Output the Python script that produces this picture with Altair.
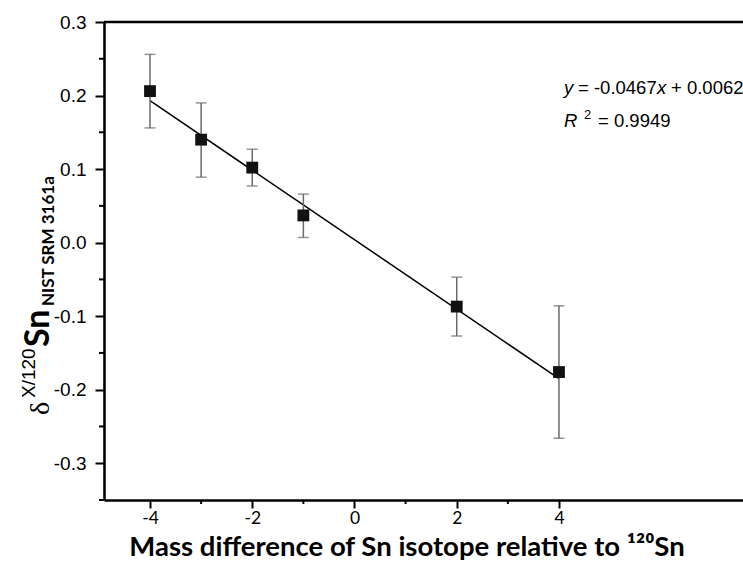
import altair as alt
import pandas as pd

# ---- data ----
mass_diff = [-4, -3, -2, -1, 2, 4]
delta = [0.206, 0.140, 0.102, 0.037, -0.087, -0.176]
err_high = [0.256, 0.190, 0.127, 0.066, -0.047, -0.086]
err_low = [0.156, 0.089, 0.077, 0.007, -0.127, -0.266]
fit_x = [-4, 4]
fit_y = [0.193, -0.185]
x_major = [-4, -2, 0, 2, 4]
x_minor = [-3, -1, 1, 3]
y_major = [-0.3, -0.2, -0.1, 0.0, 0.1, 0.2, 0.3]
y_minor = [-0.35, -0.25, -0.15, -0.05, 0.05, 0.15, 0.25]
x_domain = [-4.9, 7.6]
y_domain = [-0.35, 0.3]

pts = pd.DataFrame({"x": mass_diff, "y": delta, "hi": err_high, "lo": err_low})
fit = pd.DataFrame({"x": fit_x, "y": fit_y})
xmin_df = pd.DataFrame({"x": x_minor})
ymin_df = pd.DataFrame({"y": y_minor})

W, H = 639, 478

xscale = alt.Scale(domain=x_domain, nice=False, zero=False)
yscale = alt.Scale(domain=y_domain, nice=False, zero=False)

xaxis = alt.Axis(
    values=x_major, title=None, format="d",
    labelExpr="toString(datum.value)",
    labelFont="Lato", labelFontSize=17.5, labelColor="black", labelPadding=1,
    domainColor="black", domainWidth=2.6, tickColor="black", tickWidth=2,
    tickSize=8, grid=False, labelFlush=False, labelOverlap=False,
)
yaxis = alt.Axis(
    values=y_major, title=None,
    labelExpr="datum.value < -0.001 ? '-' + format(-datum.value, '.1f') : format(abs(datum.value), '.1f')",
    labelFont="Liberation Sans", labelFontSize=19, labelColor="black", labelPadding=9,
    domainColor="black", domainWidth=2.6, tickColor="black", tickWidth=2,
    tickSize=9, grid=False, labelFlush=False, labelOverlap=False,
)

X = alt.X("x:Q", scale=xscale, axis=xaxis)
Y = alt.Y("y:Q", scale=yscale, axis=yaxis)

top_border = alt.Chart(alt.Data(values=[{}])).mark_rule(
    color="black", strokeWidth=2.6
).encode(
    x=alt.datum(x_domain[0], scale=xscale),
    x2=alt.datum(x_domain[1]),
    y=alt.datum(y_domain[1], scale=yscale),
)

x_minor_ticks = alt.Chart(xmin_df).mark_rule(color="black", strokeWidth=2).encode(
    x=alt.X("x:Q", scale=xscale), y=alt.value(H), y2=alt.value(H + 4))
y_minor_ticks = alt.Chart(ymin_df).mark_rule(color="black", strokeWidth=2).encode(
    y=alt.Y("y:Q", scale=yscale), x=alt.value(-5), x2=alt.value(0))

fit_line = alt.Chart(fit).mark_line(color="black", strokeWidth=1.5).encode(x=X, y=Y)

err_rule = alt.Chart(pts).mark_rule(color="#6a6a6a", strokeWidth=1.5).encode(
    x="x:Q", y="lo:Q", y2="hi:Q")
cap_hi = alt.Chart(pts).mark_tick(color="#6a6a6a", thickness=1.5, size=11,
                                 orient="horizontal").encode(x="x:Q", y="hi:Q")
cap_lo = alt.Chart(pts).mark_tick(color="#6a6a6a", thickness=1.5, size=11,
                                 orient="horizontal").encode(x="x:Q", y="lo:Q")
points = alt.Chart(pts).mark_point(shape="square", filled=True, color="#111111",
                                   size=140, opacity=1).encode(x=X, y=Y)


def txt(s, x, y, size, font="Liberation Sans", style="normal", weight="normal",
        angle=0, align="left"):
    return alt.Chart(alt.Data(values=[{}])).mark_text(
        text=s, font=font, fontSize=size, fontStyle=style, fontWeight=weight,
        angle=angle, align=align, baseline="alphabetic", color="black"
    ).encode(x=alt.value(x), y=alt.value(y))


fs = 18.5
eq = [
    txt("y", 460, 72, fs, style="italic"),
    txt("= -0.0467", 474, 72, fs),
    txt("x", 553, 72, fs, style="italic"),
    txt("+ 0.0062", 567, 72, fs),
    txt("R", 460, 105, fs, style="italic"),
    txt("2", 480, 97, 13),
    txt("= 0.9949", 494, 105, fs),
]

# y-axis title, built from pieces, reading bottom to top
ytitle = [
    txt("\u03b4", -55, 393, 28, font="Liberation Serif", angle=270),
    txt("X/120", -69, 376, 19, angle=270),
    txt("Sn", -55, 325, 34, font="Lato", weight="bold", angle=270),
    txt("NIST SRM 3161a", -50, 284, 17, font="Lato", weight="bold", angle=270),
]

xtitle = txt("Mass difference of Sn isotope relative to \u00b9\u00b2\u2070Sn",
             303, 534, 27.5, font="Lato", weight="bold", align="center")

chart = alt.layer(
    fit_line, err_rule, cap_hi, cap_lo, points, x_minor_ticks, y_minor_ticks,
    top_border, *eq, *ytitle, xtitle
).properties(
    width=W, height=H,
    autosize=alt.AutoSizeParams(type="none"),
    padding={"left": 104, "top": 22, "right": 0, "bottom": 70},
).configure_view(stroke=None).configure(background="white")

chart.save("out.html", embed_options={"renderer": "svg", "actions": False})
